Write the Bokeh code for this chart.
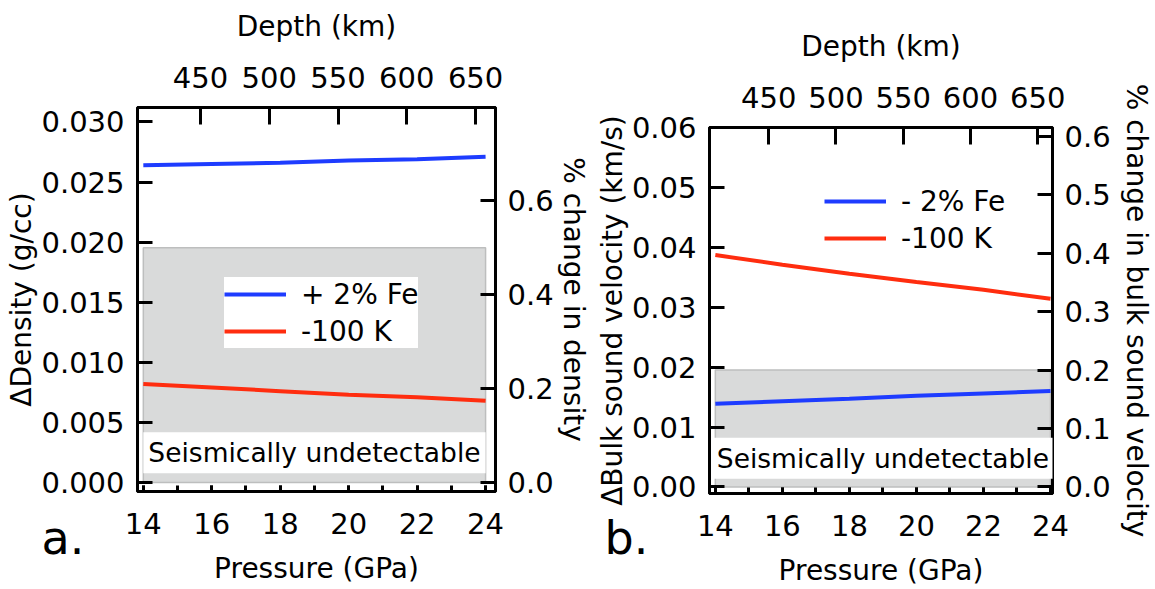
from jinja2 import Template
from bokeh.plotting import figure
from bokeh.core.properties import value
from bokeh.models import (Range1d, LinearAxis, SingleIntervalTicker, FixedTicker,
                          NumeralTickFormatter, Legend, LegendItem, Label)
from bokeh.embed import file_html
from bokeh.resources import INLINE

# ---- data -------------------------------------------------------------
pressure = [14, 16, 18, 20, 22, 24]                       # GPa
depth_ticks = [450, 500, 550, 600, 650]                   # km

# (a) density contrast (g/cc)
density_fe = [0.0264, 0.0265, 0.0266, 0.0268, 0.0269, 0.0271]
density_cold = [0.0082, 0.0079, 0.0076, 0.0073, 0.0071, 0.0068]

# (b) bulk sound velocity contrast (km/s)
velocity_fe = [0.0139, 0.0143, 0.0147, 0.0152, 0.0156, 0.0160]
velocity_cold = [0.0387, 0.0371, 0.0356, 0.0342, 0.0329, 0.0314]

# detection thresholds (% change)
threshold_density = 0.5
threshold_velocity = 0.2

# ratio between absolute contrast and % change
pct_density = 25.6
pct_velocity = 10.25

panel_letters = ["a.", "b."]

FONT = "DejaVu Sans"
TICK_FS = "29px"
TITLE_FS = "28px"
BLUE = "#1E3CFF"
RED = "#FF2D0F"
GRAY = "#D9DADA"
PAGE_W, PAGE_H = 1155, 589


def style_axis(ax, tick_len, standoff, label_standoff):
    ax.axis_line_color = "black"
    ax.axis_line_width = 3
    ax.major_tick_in = tick_len
    ax.major_tick_out = 0
    ax.major_tick_line_width = 3
    ax.minor_tick_in = 0
    ax.minor_tick_out = 0
    ax.major_label_text_font = FONT
    ax.major_label_text_font_size = TICK_FS
    ax.major_label_text_color = "black"
    ax.major_label_standoff = standoff
    ax.axis_label_text_font = FONT
    ax.axis_label_text_font_size = TITLE_FS
    ax.axis_label_text_font_style = "normal"
    ax.axis_label_text_color = "black"
    ax.axis_label_standoff = label_standoff


def panel(width, borders, xr, yr, depth_range, pct_factor, y_interval, pct_interval,
          y_fmt, y_label, pct_label, pct_standoff, threshold, fe, cold, fe_label,
          legend_loc, box_y):
    left, right, top, bottom = borders
    p = figure(width=width, height=PAGE_H, x_range=Range1d(*xr), y_range=Range1d(*yr),
               output_backend="svg", toolbar_location=None,
               min_border_left=left, min_border_right=right,
               min_border_top=top, min_border_bottom=bottom)
    p.grid.visible = False
    p.outline_line_color = "black"
    p.outline_line_width = 3
    p.background_fill_color = "white"
    p.border_fill_color = "white"

    p.extra_x_ranges = {"depth": Range1d(*depth_range)}
    p.extra_y_ranges = {"pct": Range1d(yr[0] * pct_factor, yr[1] * pct_factor)}

    # bottom: pressure
    xa = p.xaxis[0]
    xa.ticker = SingleIntervalTicker(interval=2, num_minor_ticks=2)
    xa.axis_label = "Pressure (GPa)"
    style_axis(xa, 6, 21, 15)
    xa.minor_tick_in = 6
    xa.minor_tick_line_width = 3

    # left: absolute contrast
    ya = p.yaxis[0]
    ya.ticker = SingleIntervalTicker(interval=y_interval, num_minor_ticks=0)
    ya.formatter = NumeralTickFormatter(format=y_fmt)
    ya.axis_label = y_label
    style_axis(ya, 15, 13, 0)

    # top: depth
    ta = LinearAxis(x_range_name="depth", ticker=FixedTicker(ticks=depth_ticks),
                    axis_label="Depth (km)")
    style_axis(ta, 17, 20, 21)
    p.add_layout(ta, "above")

    # right: percent change
    ra = LinearAxis(y_range_name="pct",
                    ticker=SingleIntervalTicker(interval=pct_interval, num_minor_ticks=0),
                    formatter=NumeralTickFormatter(format="0.0"),
                    axis_label=pct_label)
    style_axis(ra, 15, 12, pct_standoff)
    p.add_layout(ra, "right")

    # region below detection threshold
    p.quad(left=[pressure[0]], right=[pressure[-1]], bottom=[0], top=[threshold],
           y_range_name="pct", fill_color=GRAY, line_color="#BDBEBE", line_width=1.5)

    r_fe = p.line(pressure, fe, line_color=BLUE, line_width=4)
    r_cold = p.line(pressure, cold, line_color=RED, line_width=4)

    legend = Legend(items=[LegendItem(label=fe_label, renderers=[r_fe]),
                           LegendItem(label="-100 K", renderers=[r_cold])],
                    location=legend_loc, orientation="vertical",
                    label_text_font=FONT, label_text_font_size=TITLE_FS,
                    label_text_color="black",
                    glyph_width=62, glyph_height=34, label_height=34,
                    label_standoff=15, spacing=3, padding=6, margin=0,
                    border_line_color=None, background_fill_color="white",
                    background_fill_alpha=1.0)
    p.add_layout(legend)

    p.add_layout(Label(x=(pressure[0] + pressure[-1]) / 2, y=box_y,
                       text="Seismically undetectable",
                       text_font=FONT, text_font_size="26.5px", text_color="black",
                       text_align="center", text_baseline="middle",
                       background_fill_color="white", background_fill_alpha=1.0,
                       padding=5))
    return p


pa = panel(592, (137, 97, 107, 98), (13.83, 24.29), (-0.00075, 0.0312),
           (404.2, 664.5), pct_density, 0.005, 0.2, "0.000",
           "\u0394Density (g/cc)", "% change in density", 0, threshold_density,
           density_fe, density_cold, "+ 2% Fe", (87, 143), 0.00247)

pb = panel(563, (112, 98, 127, 96), (13.826, 24.06), (-0.0011, 0.06),
           (406.0, 661.0), pct_velocity, 0.01, 0.1, "0.00",
           "\u0394Bulk sound velocity (km/s)", "% change in bulk sound velocity", 6,
           threshold_velocity, velocity_fe, velocity_cold, "- 2% Fe", (115, 238),
           0.0048)

# transparent page-sized layer carrying the panel letters (pixel coordinates)
letters = figure(width=PAGE_W, height=PAGE_H, x_range=Range1d(0, PAGE_W),
                 y_range=Range1d(PAGE_H, 0), output_backend="svg",
                 toolbar_location=None, x_axis_location=None, y_axis_location=None,
                 min_border=0)
letters.grid.visible = False
letters.outline_line_color = None
letters.background_fill_alpha = 0
letters.border_fill_alpha = 0
letters.text(x=[41, 604], y=[537, 537], text=panel_letters,
             text_font=value(FONT), text_font_size="46px", text_color="black",
             text_align="left", text_baseline="alphabetic")

# panels side by side; the letter layer floats over the whole page
page = Template("""{% extends base %}
{% block postamble %}
<style>
  body { display: flex !important; flex-direction: row; align-items: flex-start; }
  [data-root-id="{{ letters_id }}"] > * {
    position: absolute !important; left: 0; top: 0; pointer-events: none;
  }
</style>
{% endblock %}
""")

open("out.html", "w").write(file_html([pa, pb, letters], INLINE, template=page,
                                      template_variables={"letters_id": letters.id}))
